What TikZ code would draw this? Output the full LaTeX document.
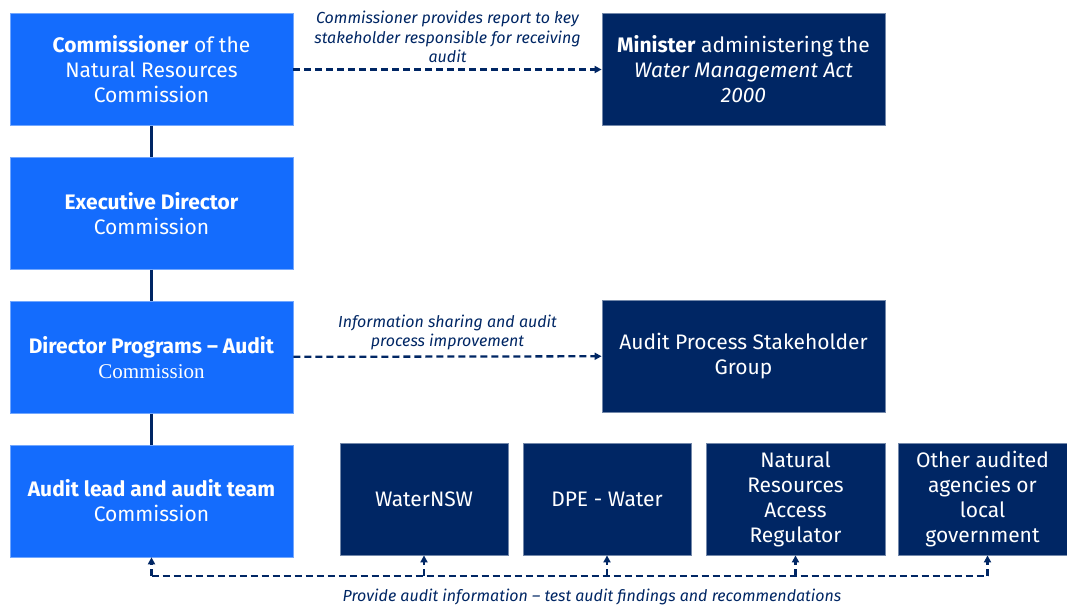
\documentclass[tikz,border=0pt]{standalone}
\usepackage{fontspec}
\setmainfont{Fira Sans}
\newfontfamily\serifword{Liberation Serif}
\definecolor{nswblue}{RGB}{20, 108, 253}
\definecolor{navy}{RGB}{0, 38, 100}
\usetikzlibrary{arrows.meta}
\usetikzlibrary{positioning}
\tikzset{
  box/.style={
    minimum height=112pt, align=center, text=white, inner sep=2pt,
    line width=0.8pt, font=\fontsize{21}{25}\selectfont
  },
  nrcbox/.style={box, fill=nswblue, draw=nswblue!60!white, minimum width=283pt},
  extbox/.style={box, fill=navy, draw=navy!55!white},
  chain/.style={draw=navy, line width=2.8pt},
  flow/.style={draw=navy, line width=2.3pt, dash pattern=on 7pt off 4pt,
    -{Triangle[length=7pt, width=7pt]}},
  note/.style={text=navy, align=center, font=\fontsize{16}{19.5}\selectfont\itshape}
}

\begin{document}
\begin{tikzpicture}[x=1pt, y=-1pt]
      \useasboundingbox (0,0) rectangle (1067,606);

      % Commission chain down the left
      \node [nrcbox] (comm) at (151.5,69.5)
            {\textbf{Commissioner} of the\\Natural Resources\\Commission};
      \node [nrcbox, below=31pt of comm] (exec)
            {\textbf{Executive Director}\\Commission};
      \node [nrcbox, below=31pt of exec] (dir)
            {\textbf{Director Programs -- Audit}\\{\serifword Commission}};
      \node [nrcbox, below=31pt of dir] (lead)
            {\textbf{Audit lead and audit team}\\Commission};
      \draw [chain] (comm) -- (exec);
      \draw [chain] (exec) -- (dir);
      \draw [chain] (dir) -- (lead);

      % stakeholders on the right
      \node [extbox, minimum width=283pt] (minister) at (743.5,69.5)
            {\textbf{Minister} administering the\\\textit{Water Management Act}\\\textit{2000}};
      \node [extbox, minimum width=283pt] (apsg) at (743.5,356)
            {Audit Process Stakeholder\\Group};

      % audited agencies along the bottom
      \node [extbox, minimum width=168pt] (waternsw) at (424,499) {WaterNSW};
      \node [extbox, minimum width=168pt] (dpe) at (607,499) {DPE - Water};
      \node [extbox, minimum width=179pt] (nrar) at (795.5,499)
            {Natural\\Resources\\Access\\Regulator};
      \node [extbox, minimum width=169pt] (other) at (982.5,499)
            {Other audited\\agencies or\\local\\government};

      \draw [flow] (comm) -- (minister)
            node [note, midway, above=2pt]
            {Commissioner provides report to key\\stakeholder responsible for receiving\\audit};
      \draw [flow] (dir) -- (apsg)
            node [note, midway, above=2pt]
            {Information sharing and audit\\process improvement};

      % shared feedback line under the bottom row
      \coordinate (base) at (0,576);
      \draw [flow, -] (lead.south |- base) -- ([xshift=5pt]other.south |- base);
      \foreach \n/\dx in {lead/0, waternsw/0, dpe/0, nrar/0, other/5}
        \draw [flow] ([xshift=\dx pt]\n.south |- base) -- ([xshift=\dx pt]\n.south);
      \node [note] (feedback) at (592,597)
            {Provide audit information -- test audit findings and recommendations};
\end{tikzpicture}
\end{document}
